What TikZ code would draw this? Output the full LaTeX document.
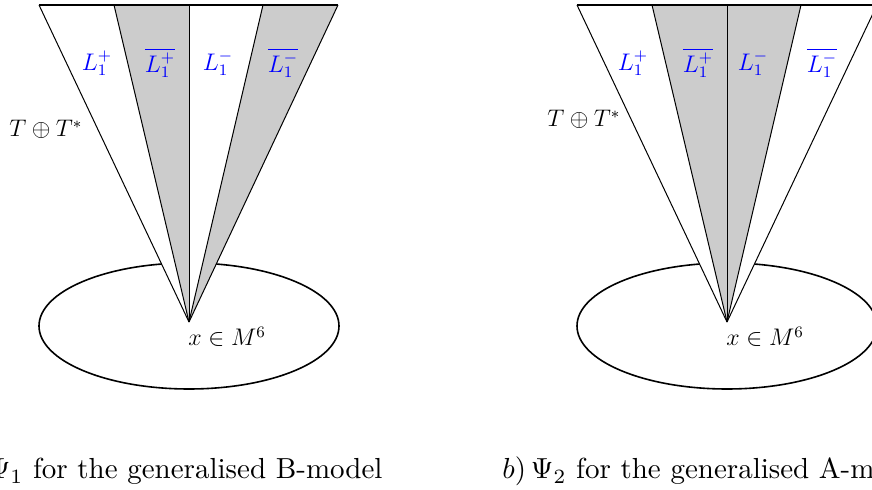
\documentclass[tikz,border=0pt]{standalone}
\begin{document}
\begin{tikzpicture}[x=0.5pt,y=-0.5pt,
  edge/.style={line width=0.5pt, line join=round},
  rim/.style={line width=0.8pt},
  lab/.style={text=blue, inner sep=0pt, font=\fontsize{11.8}{14}\selectfont},
  plain/.style={inner sep=0pt, font=\fontsize{11.8}{14}\selectfont},
  capt/.style={inner sep=0pt, font=\normalsize, anchor=base west}]
\useasboundingbox (0,0) rectangle (872,490);
\clip (0,0) rectangle (872,490);
% ---------- left figure ----------
\coordinate (A) at (189,322);
\coordinate (a1) at (39,5);
\coordinate (a2) at (114,5);
\coordinate (a3) at (189,5);
\coordinate (a4) at (263,5);
\coordinate (a5) at (338,5);
\draw[rim] (189,326) ellipse [x radius=150, y radius=63];
\fill[white] (A) -- (a1) -- (a5) -- cycle;
\fill[black!20] (A) -- (a2) -- (a3) -- cycle;
\fill[black!20] (A) -- (a4) -- (a5) -- cycle;
\draw[edge] (A) -- (a1);
\draw[edge] (A) -- (a2);
\draw[edge] (A) -- (a3);
\draw[edge] (A) -- (a4);
\draw[edge] (A) -- (a5);
\draw[rim] (a1) -- (a5);
\node[lab] (la1) at (97,63) {$L_1^+$};
\node[lab] (la2) at (160,63) {$\overline{L_1^+}$};
\node[lab] (la3) at (218,63) {$L_1^-$};
\node[lab] (la4) at (283,63) {$\overline{L_1^-}$};
\node[plain, anchor=base west] (ta) at (9,137) {$T\oplus T^*$};
\node[plain, anchor=base west] (xa) at (188,346) {$x\in M^6$};
\node[capt] (ca) at (-44,479) {\scalebox{1.45}{$a)\,\Psi_1$ for the generalised B-model}};
% ---------- right figure ----------
\coordinate (B) at (727,322);
\coordinate (b1) at (577,5);
\coordinate (b2) at (652,5);
\coordinate (b3) at (727,5);
\coordinate (b4) at (801,5);
\coordinate (b5) at (877,5);
\draw[rim] (727,326) ellipse [x radius=150, y radius=63];
\fill[white] (B) -- (b1) -- (b5) -- cycle;
\fill[black!20] (B) -- (b2) -- (b4) -- cycle;
\draw[edge] (B) -- (b1);
\draw[edge] (B) -- (b2);
\draw[edge] (B) -- (b3);
\draw[edge] (B) -- (b4);
\draw[edge] (B) -- (b5);
\draw[rim] (b1) -- (b5);
\node[lab] (lb1) at (633,63) {$L_1^+$};
\node[lab] (lb2) at (698,63) {$\overline{L_1^+}$};
\node[lab] (lb3) at (753,63) {$L_1^-$};
\node[lab] (lb4) at (822,63) {$\overline{L_1^-}$};
\node[plain, anchor=base west] (tb) at (547,127) {$T\oplus T^*$};
\node[plain, anchor=base west] (xb) at (726,346) {$x\in M^6$};
\node[capt] (cb) at (502,479) {\scalebox{1.45}{$b)\,\Psi_2$ for the generalised A-model}};
\end{tikzpicture}
\end{document}
